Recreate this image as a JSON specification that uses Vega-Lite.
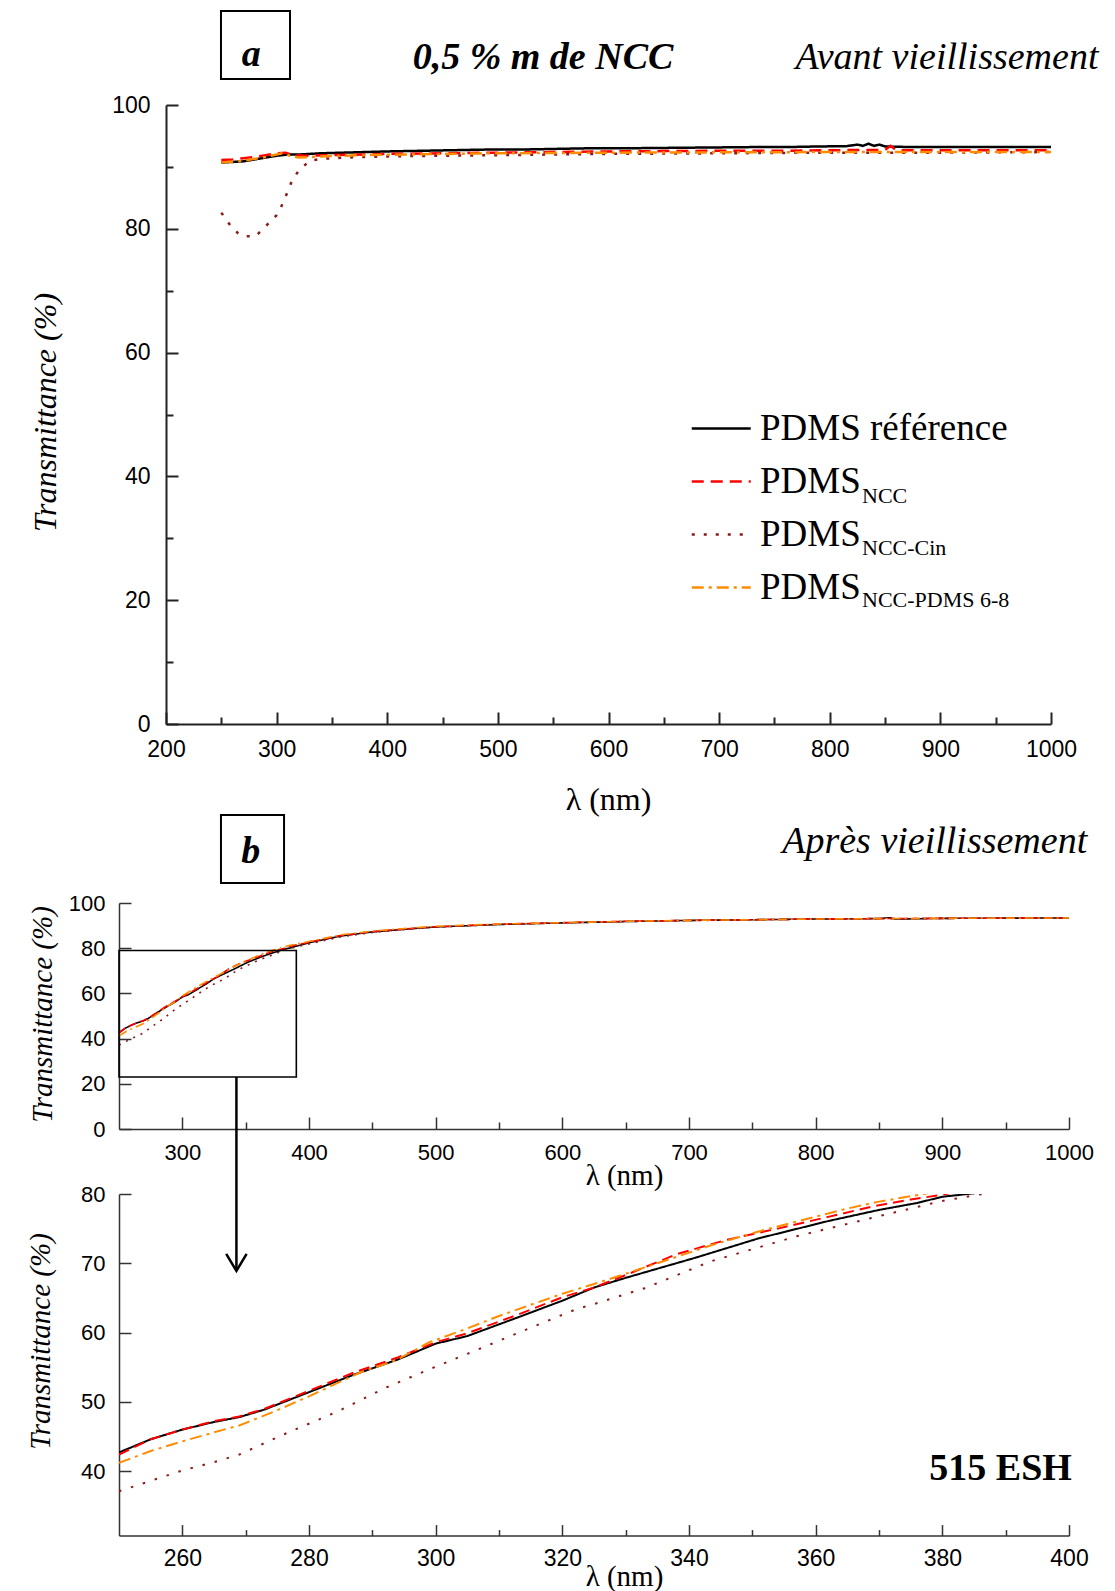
{
  "$schema": "https://vega.github.io/schema/vega-lite/v6.json",
  "background": "white",
  "autosize": {"type": "pad"},
  "padding": {"left": 26, "top": 9, "right": 5, "bottom": 5},
  "config": {
    "view": {"stroke": null},
    "axis": {"grid": false, "format": "d", "labelFlush": false, "labelOverlap": false, "labelFont": "Liberation Sans", "labelColor": "#000", "titleFont": "Liberation Serif", "titleFontWeight": "normal", "titleColor": "#000", "domainColor": "#222", "tickColor": "#222"},
    "legend": {"padding": 0, "titlePadding": 0, "labelLimit": 500}
  },
  "datasets": {
    "a": [
      {"s":"PDMS référence","x":250,"y":90.7},{"s":"PDMS référence","x":260,"y":90.8},{"s":"PDMS référence","x":270,"y":90.9},{"s":"PDMS référence","x":280,"y":91.2},{"s":"PDMS référence","x":290,"y":91.5},{"s":"PDMS référence","x":300,"y":91.8},{"s":"PDMS référence","x":310,"y":92.0},{"s":"PDMS référence","x":320,"y":92.0},{"s":"PDMS référence","x":340,"y":92.2},{"s":"PDMS référence","x":360,"y":92.3},{"s":"PDMS référence","x":380,"y":92.4},{"s":"PDMS référence","x":400,"y":92.5},{"s":"PDMS référence","x":430,"y":92.6},{"s":"PDMS référence","x":460,"y":92.7},{"s":"PDMS référence","x":490,"y":92.8},{"s":"PDMS référence","x":520,"y":92.8},{"s":"PDMS référence","x":550,"y":92.9},{"s":"PDMS référence","x":580,"y":93.0},{"s":"PDMS référence","x":610,"y":93.0},{"s":"PDMS référence","x":640,"y":93.05},{"s":"PDMS référence","x":670,"y":93.1},{"s":"PDMS référence","x":700,"y":93.15},{"s":"PDMS référence","x":730,"y":93.2},{"s":"PDMS référence","x":760,"y":93.2},{"s":"PDMS référence","x":790,"y":93.3},{"s":"PDMS référence","x":815,"y":93.35},{"s":"PDMS référence","x":825,"y":93.6},{"s":"PDMS référence","x":830,"y":93.4},{"s":"PDMS référence","x":835,"y":93.75},{"s":"PDMS référence","x":840,"y":93.4},{"s":"PDMS référence","x":845,"y":93.6},{"s":"PDMS référence","x":850,"y":93.3},{"s":"PDMS référence","x":860,"y":93.25},{"s":"PDMS référence","x":880,"y":93.2},{"s":"PDMS référence","x":900,"y":93.2},{"s":"PDMS référence","x":930,"y":93.2},{"s":"PDMS référence","x":960,"y":93.2},{"s":"PDMS référence","x":1000,"y":93.2},
      {"s":"PDMS NCC","x":250,"y":91.1},{"s":"PDMS NCC","x":260,"y":91.2},{"s":"PDMS NCC","x":270,"y":91.4},{"s":"PDMS NCC","x":280,"y":91.6},{"s":"PDMS NCC","x":290,"y":91.9},{"s":"PDMS NCC","x":300,"y":92.2},{"s":"PDMS NCC","x":308,"y":92.3},{"s":"PDMS NCC","x":315,"y":91.9},{"s":"PDMS NCC","x":330,"y":91.8},{"s":"PDMS NCC","x":350,"y":91.9},{"s":"PDMS NCC","x":400,"y":92.1},{"s":"PDMS NCC","x":450,"y":92.2},{"s":"PDMS NCC","x":500,"y":92.3},{"s":"PDMS NCC","x":550,"y":92.4},{"s":"PDMS NCC","x":600,"y":92.5},{"s":"PDMS NCC","x":650,"y":92.55},{"s":"PDMS NCC","x":700,"y":92.6},{"s":"PDMS NCC","x":750,"y":92.6},{"s":"PDMS NCC","x":800,"y":92.7},{"s":"PDMS NCC","x":850,"y":92.75},{"s":"PDMS NCC","x":855,"y":93.4},{"s":"PDMS NCC","x":860,"y":92.7},{"s":"PDMS NCC","x":900,"y":92.7},{"s":"PDMS NCC","x":950,"y":92.7},{"s":"PDMS NCC","x":1000,"y":92.7},
      {"s":"PDMS NCC-Cin","x":250,"y":82.6},{"s":"PDMS NCC-Cin","x":258,"y":80.6},{"s":"PDMS NCC-Cin","x":265,"y":79.3},{"s":"PDMS NCC-Cin","x":270,"y":78.8},{"s":"PDMS NCC-Cin","x":281,"y":78.8},{"s":"PDMS NCC-Cin","x":290,"y":80.4},{"s":"PDMS NCC-Cin","x":300,"y":82.2},{"s":"PDMS NCC-Cin","x":304,"y":83.5},{"s":"PDMS NCC-Cin","x":309,"y":85.6},{"s":"PDMS NCC-Cin","x":314,"y":87.8},{"s":"PDMS NCC-Cin","x":320,"y":89.4},{"s":"PDMS NCC-Cin","x":330,"y":91.0},{"s":"PDMS NCC-Cin","x":341,"y":91.3},{"s":"PDMS NCC-Cin","x":360,"y":91.5},{"s":"PDMS NCC-Cin","x":400,"y":91.7},{"s":"PDMS NCC-Cin","x":450,"y":91.8},{"s":"PDMS NCC-Cin","x":500,"y":91.9},{"s":"PDMS NCC-Cin","x":600,"y":92.1},{"s":"PDMS NCC-Cin","x":700,"y":92.2},{"s":"PDMS NCC-Cin","x":800,"y":92.3},{"s":"PDMS NCC-Cin","x":900,"y":92.3},{"s":"PDMS NCC-Cin","x":1000,"y":92.4},
      {"s":"PDMS NCC-PDMS 6-8","x":250,"y":90.7},{"s":"PDMS NCC-PDMS 6-8","x":270,"y":91.0},{"s":"PDMS NCC-PDMS 6-8","x":290,"y":91.6},{"s":"PDMS NCC-PDMS 6-8","x":305,"y":92.2},{"s":"PDMS NCC-PDMS 6-8","x":312,"y":91.8},{"s":"PDMS NCC-PDMS 6-8","x":320,"y":91.5},{"s":"PDMS NCC-PDMS 6-8","x":340,"y":91.7},{"s":"PDMS NCC-PDMS 6-8","x":380,"y":91.9},{"s":"PDMS NCC-PDMS 6-8","x":450,"y":92.1},{"s":"PDMS NCC-PDMS 6-8","x":500,"y":92.2},{"s":"PDMS NCC-PDMS 6-8","x":600,"y":92.3},{"s":"PDMS NCC-PDMS 6-8","x":700,"y":92.35},{"s":"PDMS NCC-PDMS 6-8","x":800,"y":92.4},{"s":"PDMS NCC-PDMS 6-8","x":900,"y":92.4},{"s":"PDMS NCC-PDMS 6-8","x":1000,"y":92.4}
    ],
    "b": [
      {"s":"PDMS référence","x":250,"y":42.7},{"s":"PDMS référence","x":255,"y":44.6},{"s":"PDMS référence","x":260,"y":46.0},{"s":"PDMS référence","x":265,"y":47.1},{"s":"PDMS référence","x":269,"y":47.8},{"s":"PDMS référence","x":273,"y":48.9},{"s":"PDMS référence","x":280,"y":51.4},{"s":"PDMS référence","x":287,"y":53.9},{"s":"PDMS référence","x":294,"y":56.1},{"s":"PDMS référence","x":300,"y":58.4},{"s":"PDMS référence","x":305,"y":59.5},{"s":"PDMS référence","x":313,"y":62.2},{"s":"PDMS référence","x":320,"y":64.6},{"s":"PDMS référence","x":325,"y":66.5},{"s":"PDMS référence","x":330,"y":67.9},{"s":"PDMS référence","x":341,"y":70.8},{"s":"PDMS référence","x":351,"y":73.6},{"s":"PDMS référence","x":362,"y":76.1},{"s":"PDMS référence","x":370,"y":77.7},{"s":"PDMS référence","x":376,"y":78.7},{"s":"PDMS référence","x":380,"y":79.6},{"s":"PDMS référence","x":385,"y":80.1},{"s":"PDMS référence","x":392,"y":81.2},{"s":"PDMS référence","x":400,"y":82.4},{"s":"PDMS référence","x":425,"y":85.4},{"s":"PDMS référence","x":450,"y":87.2},{"s":"PDMS référence","x":485,"y":88.8},{"s":"PDMS référence","x":500,"y":89.4},{"s":"PDMS référence","x":550,"y":90.5},{"s":"PDMS référence","x":600,"y":91.2},{"s":"PDMS référence","x":650,"y":91.8},{"s":"PDMS référence","x":700,"y":92.3},{"s":"PDMS référence","x":750,"y":92.6},{"s":"PDMS référence","x":800,"y":92.9},{"s":"PDMS référence","x":850,"y":93.1},{"s":"PDMS référence","x":858,"y":93.5},{"s":"PDMS référence","x":863,"y":92.9},{"s":"PDMS référence","x":900,"y":93.2},{"s":"PDMS référence","x":950,"y":93.3},{"s":"PDMS référence","x":1000,"y":93.4},
      {"s":"PDMS NCC","x":250,"y":42.4},{"s":"PDMS NCC","x":255,"y":44.6},{"s":"PDMS NCC","x":260,"y":46.0},{"s":"PDMS NCC","x":265,"y":47.2},{"s":"PDMS NCC","x":269,"y":47.9},{"s":"PDMS NCC","x":273,"y":49.0},{"s":"PDMS NCC","x":280,"y":51.6},{"s":"PDMS NCC","x":287,"y":54.2},{"s":"PDMS NCC","x":294,"y":56.4},{"s":"PDMS NCC","x":300,"y":58.6},{"s":"PDMS NCC","x":305,"y":59.9},{"s":"PDMS NCC","x":313,"y":62.6},{"s":"PDMS NCC","x":320,"y":65.1},{"s":"PDMS NCC","x":325,"y":66.5},{"s":"PDMS NCC","x":330,"y":68.3},{"s":"PDMS NCC","x":338,"y":71.3},{"s":"PDMS NCC","x":346,"y":73.4},{"s":"PDMS NCC","x":354,"y":75.0},{"s":"PDMS NCC","x":362,"y":76.7},{"s":"PDMS NCC","x":369,"y":78.2},{"s":"PDMS NCC","x":375,"y":79.2},{"s":"PDMS NCC","x":380,"y":79.9},{"s":"PDMS NCC","x":386,"y":81.0},{"s":"PDMS NCC","x":400,"y":82.6},{"s":"PDMS NCC","x":425,"y":85.6},{"s":"PDMS NCC","x":450,"y":87.3},{"s":"PDMS NCC","x":485,"y":88.9},{"s":"PDMS NCC","x":500,"y":89.5},{"s":"PDMS NCC","x":550,"y":90.6},{"s":"PDMS NCC","x":600,"y":91.3},{"s":"PDMS NCC","x":650,"y":91.9},{"s":"PDMS NCC","x":700,"y":92.3},{"s":"PDMS NCC","x":750,"y":92.6},{"s":"PDMS NCC","x":800,"y":92.9},{"s":"PDMS NCC","x":850,"y":93.1},{"s":"PDMS NCC","x":900,"y":93.2},{"s":"PDMS NCC","x":950,"y":93.3},{"s":"PDMS NCC","x":1000,"y":93.4},
      {"s":"PDMS NCC-Cin","x":250,"y":37.1},{"s":"PDMS NCC-Cin","x":255,"y":38.6},{"s":"PDMS NCC-Cin","x":260,"y":40.1},{"s":"PDMS NCC-Cin","x":265,"y":41.3},{"s":"PDMS NCC-Cin","x":269,"y":42.4},{"s":"PDMS NCC-Cin","x":276,"y":45.3},{"s":"PDMS NCC-Cin","x":284.5,"y":48.6},{"s":"PDMS NCC-Cin","x":292,"y":52.0},{"s":"PDMS NCC-Cin","x":299,"y":54.7},{"s":"PDMS NCC-Cin","x":306,"y":57.3},{"s":"PDMS NCC-Cin","x":315,"y":60.7},{"s":"PDMS NCC-Cin","x":322,"y":63.3},{"s":"PDMS NCC-Cin","x":326,"y":64.4},{"s":"PDMS NCC-Cin","x":333,"y":66.4},{"s":"PDMS NCC-Cin","x":343.5,"y":70.3},{"s":"PDMS NCC-Cin","x":357,"y":73.9},{"s":"PDMS NCC-Cin","x":370,"y":76.8},{"s":"PDMS NCC-Cin","x":380,"y":79.0},{"s":"PDMS NCC-Cin","x":387,"y":80.1},{"s":"PDMS NCC-Cin","x":395,"y":81.3},{"s":"PDMS NCC-Cin","x":400,"y":81.9},{"s":"PDMS NCC-Cin","x":425,"y":85.0},{"s":"PDMS NCC-Cin","x":450,"y":87.0},{"s":"PDMS NCC-Cin","x":485,"y":88.7},{"s":"PDMS NCC-Cin","x":500,"y":89.3},{"s":"PDMS NCC-Cin","x":550,"y":90.5},{"s":"PDMS NCC-Cin","x":600,"y":91.2},{"s":"PDMS NCC-Cin","x":650,"y":91.8},{"s":"PDMS NCC-Cin","x":700,"y":92.2},{"s":"PDMS NCC-Cin","x":750,"y":92.6},{"s":"PDMS NCC-Cin","x":800,"y":92.9},{"s":"PDMS NCC-Cin","x":850,"y":93.0},{"s":"PDMS NCC-Cin","x":900,"y":93.2},{"s":"PDMS NCC-Cin","x":950,"y":93.3},{"s":"PDMS NCC-Cin","x":1000,"y":93.4},
      {"s":"PDMS NCC-PDMS 6-8","x":250,"y":41.2},{"s":"PDMS NCC-PDMS 6-8","x":255,"y":42.9},{"s":"PDMS NCC-PDMS 6-8","x":260,"y":44.3},{"s":"PDMS NCC-PDMS 6-8","x":265,"y":45.6},{"s":"PDMS NCC-PDMS 6-8","x":269,"y":46.6},{"s":"PDMS NCC-PDMS 6-8","x":274.5,"y":48.6},{"s":"PDMS NCC-PDMS 6-8","x":280,"y":50.8},{"s":"PDMS NCC-PDMS 6-8","x":288,"y":54.2},{"s":"PDMS NCC-PDMS 6-8","x":294,"y":56.1},{"s":"PDMS NCC-PDMS 6-8","x":299,"y":58.6},{"s":"PDMS NCC-PDMS 6-8","x":305,"y":60.6},{"s":"PDMS NCC-PDMS 6-8","x":310,"y":62.4},{"s":"PDMS NCC-PDMS 6-8","x":315,"y":64.0},{"s":"PDMS NCC-PDMS 6-8","x":320,"y":65.6},{"s":"PDMS NCC-PDMS 6-8","x":326,"y":67.3},{"s":"PDMS NCC-PDMS 6-8","x":335,"y":70.0},{"s":"PDMS NCC-PDMS 6-8","x":343.5,"y":72.6},{"s":"PDMS NCC-PDMS 6-8","x":351,"y":74.6},{"s":"PDMS NCC-PDMS 6-8","x":359,"y":76.5},{"s":"PDMS NCC-PDMS 6-8","x":365,"y":77.9},{"s":"PDMS NCC-PDMS 6-8","x":370,"y":78.9},{"s":"PDMS NCC-PDMS 6-8","x":377,"y":80.0},{"s":"PDMS NCC-PDMS 6-8","x":385,"y":81.3},{"s":"PDMS NCC-PDMS 6-8","x":400,"y":83.0},{"s":"PDMS NCC-PDMS 6-8","x":425,"y":85.9},{"s":"PDMS NCC-PDMS 6-8","x":450,"y":87.6},{"s":"PDMS NCC-PDMS 6-8","x":485,"y":89.1},{"s":"PDMS NCC-PDMS 6-8","x":500,"y":89.7},{"s":"PDMS NCC-PDMS 6-8","x":550,"y":90.7},{"s":"PDMS NCC-PDMS 6-8","x":600,"y":91.3},{"s":"PDMS NCC-PDMS 6-8","x":650,"y":91.9},{"s":"PDMS NCC-PDMS 6-8","x":700,"y":92.3},{"s":"PDMS NCC-PDMS 6-8","x":750,"y":92.6},{"s":"PDMS NCC-PDMS 6-8","x":800,"y":92.9},{"s":"PDMS NCC-PDMS 6-8","x":850,"y":93.1},{"s":"PDMS NCC-PDMS 6-8","x":900,"y":93.2},{"s":"PDMS NCC-PDMS 6-8","x":950,"y":93.3},{"s":"PDMS NCC-PDMS 6-8","x":1000,"y":93.4}
    ]
  },
  "bounds": "flush",
  "spacing": 179,
  "resolve": {"scale": {"x": "independent", "y": "independent", "color": "independent", "strokeDash": "independent", "opacity": "independent"}},
  "vconcat": [
    {
      "width": 932,
      "height": 619,
      "resolve": {"axis": {"x": "independent", "y": "independent"}},
      "layer": [
        {
          "data": {"name": "a"},
          "mark": {"type": "line", "strokeWidth": 2.5},
          "encoding": {
            "x": {"field": "x", "type": "quantitative", "scale": {"domain": [200, 1000], "range": [47, 932], "nice": false, "zero": false},
              "axis": {"orient": "bottom", "values": [200, 300, 400, 500, 600, 700, 800, 900, 1000], "tickSize": -12, "tickWidth": 2, "domainWidth": 2, "domainColor": "#222", "labelFontSize": 23, "labelPadding": 26, "title": "λ (nm)", "titleFontSize": 32, "titleX": 489, "titleY": 75, "titleAlign": "center", "titleBaseline": "middle"}},
            "y": {"field": "y", "type": "quantitative", "scale": {"domain": [0, 100], "nice": false, "zero": false},
              "axis": {"orient": "left", "offset": -47, "values": [0, 20, 40, 60, 80, 100], "tickSize": -12, "tickWidth": 2, "domainWidth": 2, "labelFontSize": 23, "labelPadding": 28, "title": "Transmittance (%)", "titleFontStyle": "italic", "titleFontSize": 32, "titleX": -121, "titleY": 307, "titleAngle": -90, "titleAlign": "center", "titleBaseline": "middle"}},
            "color": {"field": "s", "type": "nominal",
              "scale": {"domain": ["PDMS référence", "PDMS NCC", "PDMS NCC-Cin", "PDMS NCC-PDMS 6-8"], "range": ["#000000", "#ff0000", "#8b1a1a", "#ff8c00"]},
              "legend": {"orient": "none", "legendX": 569, "legendY": 305, "title": null, "labelFont": "Liberation Serif", "labelFontSize": 37, "labelColor": "#000", "labelLimit": 500, "labelExpr": "indexof(datum.label, 'référence') >= 0 ? datum.label : 'PDMS'", "symbolType": "M-1,0H3", "symbolSize": 870, "symbolStrokeWidth": 2.5, "labelOffset": 35, "rowPadding": 15, "padding": 0}},
            "strokeDash": {"field": "s", "type": "nominal",
              "scale": {"domain": ["PDMS référence", "PDMS NCC", "PDMS NCC-Cin", "PDMS NCC-PDMS 6-8"], "range": [[1, 0], [12, 7], [3, 9], [12, 5, 3, 5]]},
              "legend": {"orient": "none", "legendX": 569, "legendY": 305, "title": null, "labelFont": "Liberation Serif", "labelFontSize": 37, "labelColor": "#000", "labelLimit": 500, "labelExpr": "indexof(datum.label, 'référence') >= 0 ? datum.label : 'PDMS'", "symbolType": "M-1,0H3", "symbolSize": 870, "symbolStrokeWidth": 2.5, "labelOffset": 35, "rowPadding": 15, "padding": 0}},
            "opacity": {"field": "s", "type": "nominal",
              "scale": {"domain": ["PDMS référence", "PDMS NCC", "PDMS NCC-Cin", "PDMS NCC-PDMS 6-8", "~"], "range": [1, 1, 1, 1, 1]},
              "legend": {"orient": "none", "legendX": 721, "legendY": 328, "title": null, "labelFont": "Liberation Serif", "labelFontSize": 22, "labelColor": "#000", "labelLimit": 500, "labelExpr": "indexof(datum.label, 'NCC') >= 0 ? slice(datum.label, 5) : ''", "symbolType": "circle", "symbolSize": 0, "symbolOpacity": 0, "symbolStrokeWidth": 0, "labelOffset": 0, "rowPadding": 30, "padding": 0}}
          }
        },
        {
          "data": {"values": [{}]},
          "mark": {"type": "rect", "filled": false, "color": "#000", "strokeWidth": 2},
          "encoding": {
            "x": {"datum": 249.7, "type": "quantitative", "axis": {"orient": "bottom", "values": [250, 350, 450, 550, 650, 750, 850, 950], "tickSize": -7, "tickWidth": 2, "labels": false, "domain": false, "title": null}},
            "x2": {"datum": 312.1},
            "y": {"datum": 104.2, "type": "quantitative", "axis": {"orient": "left", "offset": -47, "values": [10, 30, 50, 70, 90], "tickSize": -7, "tickWidth": 2, "labels": false, "domain": false, "title": null}},
            "y2": {"datum": 115.2}
          }
        },
        {
          "data": {"values": [{}]},
          "mark": {"type": "text", "font": "Liberation Serif", "fontSize": 38, "fontStyle": "italic", "fontWeight": "bold", "align": "center", "baseline": "alphabetic", "color": "#000"},
          "encoding": {"x": {"datum": 277, "type": "quantitative", "axis": null}, "y": {"datum": 106.3, "type": "quantitative", "axis": null}, "text": {"value": "a"}}
        },
        {
          "data": {"values": [{}]},
          "mark": {"type": "text", "font": "Liberation Serif", "fontSize": 38, "fontStyle": "italic", "fontWeight": "bold", "align": "center", "baseline": "alphabetic", "color": "#000"},
          "encoding": {"x": {"datum": 540.8, "type": "quantitative", "axis": null}, "y": {"datum": 105.8, "type": "quantitative", "axis": null}, "text": {"value": "0,5 % m de NCC"}}
        },
        {
          "data": {"values": [{}]},
          "mark": {"type": "text", "font": "Liberation Serif", "fontSize": 38, "fontStyle": "italic", "align": "center", "baseline": "alphabetic", "color": "#000"},
          "encoding": {"x": {"datum": 906, "type": "quantitative", "axis": null}, "y": {"datum": 105.8, "type": "quantitative", "axis": null}, "text": {"value": "Avant vieillissement"}}
        }
      ]
    },
    {
      "bounds": "flush",
      "spacing": 65,
      "resolve": {"scale": {"x": "independent", "y": "independent", "color": "independent", "strokeDash": "independent", "opacity": "independent"}},
      "vconcat": [
        {
          "width": 950,
          "height": 226,
          "resolve": {"axis": {"x": "independent", "y": "independent"}},
          "layer": [
            {
              "data": {"name": "b"},
              "mark": {"type": "line", "strokeWidth": 1.6},
              "encoding": {
                "x": {"field": "x", "type": "quantitative", "scale": {"domain": [250, 1000], "nice": false, "zero": false},
                  "axis": {"orient": "bottom", "values": [300, 400, 500, 600, 700, 800, 900, 1000], "tickSize": -12, "tickWidth": 1.5, "domainWidth": 1.5, "domainColor": "#333", "tickColor": "#333", "labelFontSize": 22, "labelPadding": 25, "title": "λ (nm)", "titleFontSize": 29, "titleX": 505, "titleY": 46, "titleAlign": "center", "titleBaseline": "middle"}},
                "y": {"field": "y", "type": "quantitative", "scale": {"domain": [0, 100], "nice": false, "zero": false},
                  "axis": {"orient": "left", "values": [0, 20, 40, 60, 80, 100], "tickSize": -12, "tickWidth": 1.5, "domainWidth": 1.5, "domainColor": "#333", "tickColor": "#333", "labelFontSize": 22, "labelPadding": 26, "title": "Transmittance (%)", "titleFontStyle": "italic", "titleFontSize": 29, "titleX": -77, "titleY": 111, "titleAngle": -90, "titleAlign": "center", "titleBaseline": "middle"}},
                "color": {"field": "s", "type": "nominal", "scale": {"domain": ["PDMS référence", "PDMS NCC", "PDMS NCC-Cin", "PDMS NCC-PDMS 6-8"], "range": ["#000000", "#ff0000", "#8b1a1a", "#ff8c00"]}, "legend": null},
                "strokeDash": {"field": "s", "type": "nominal", "scale": {"domain": ["PDMS référence", "PDMS NCC", "PDMS NCC-Cin", "PDMS NCC-PDMS 6-8"], "range": [[1, 0], [8, 4], [2, 6], [9, 4, 2, 4]]}, "legend": null}
              }
            },
            {
              "data": {"values": [{}]},
              "mark": {"type": "rect", "filled": false, "color": "#000", "strokeWidth": 1.6},
              "encoding": {
                "x": {"datum": 250, "type": "quantitative", "axis": {"orient": "bottom", "values": [350, 450, 550, 650, 750, 850, 950], "tickSize": -7, "tickWidth": 1.5, "tickColor": "#333", "labels": false, "domain": false, "title": null}},
                "x2": {"datum": 390},
                "y": {"datum": 23, "type": "quantitative", "axis": null},
                "y2": {"datum": 79}
              }
            },
            {
              "data": {"values": [{}]},
              "mark": {"type": "rule", "color": "#000", "strokeWidth": 2.5},
              "encoding": {"x": {"datum": 342.7, "type": "quantitative", "axis": null}, "y": {"datum": 23, "type": "quantitative", "axis": null}, "y2": {"datum": -62.5}}
            },
            {
              "data": {"values": [{}]},
              "mark": {"type": "point", "shape": "M-0.6,-1L0,0L0.6,-1", "size": 1156, "filled": false, "color": "#000", "strokeWidth": 2.5, "opacity": 1},
              "encoding": {"x": {"datum": 342.7, "type": "quantitative", "axis": null}, "y": {"datum": -62.8, "type": "quantitative", "axis": null}}
            },
            {
              "data": {"values": [{}]},
              "mark": {"type": "rect", "filled": false, "color": "#000", "strokeWidth": 2},
              "encoding": {"x": {"datum": 330.5, "type": "quantitative", "axis": null}, "x2": {"datum": 380.3}, "y": {"datum": 108.8, "type": "quantitative", "axis": null}, "y2": {"datum": 138.9}}
            },
            {
              "data": {"values": [{}]},
              "mark": {"type": "text", "font": "Liberation Serif", "fontSize": 38, "fontStyle": "italic", "fontWeight": "bold", "align": "center", "baseline": "alphabetic", "color": "#000"},
              "encoding": {"x": {"datum": 354, "type": "quantitative", "axis": null}, "y": {"datum": 117.7, "type": "quantitative", "axis": null}, "text": {"value": "b"}}
            },
            {
              "data": {"values": [{}]},
              "mark": {"type": "text", "font": "Liberation Serif", "fontSize": 38, "fontStyle": "italic", "align": "center", "baseline": "alphabetic", "color": "#000"},
              "encoding": {"x": {"datum": 894, "type": "quantitative", "axis": null}, "y": {"datum": 122.1, "type": "quantitative", "axis": null}, "text": {"value": "Après vieillissement"}}
            }
          ]
        },
        {
          "width": 950,
          "height": 341.6,
          "resolve": {"axis": {"x": "independent", "y": "independent"}},
          "layer": [
            {
              "data": {"name": "b"},
              "mark": {"type": "line", "strokeWidth": 2, "clip": true},
              "encoding": {
                "x": {"field": "x", "type": "quantitative", "scale": {"domain": [250, 400], "nice": false, "zero": false},
                  "axis": {"orient": "bottom", "values": [260, 280, 300, 320, 340, 360, 380, 400], "tickSize": -11, "tickWidth": 1.5, "domainWidth": 1.5, "domainColor": "#333", "tickColor": "#333", "labelFontSize": 23, "labelPadding": 23, "title": "λ (nm)", "titleFontSize": 29, "titleX": 505, "titleY": 41, "titleAlign": "center", "titleBaseline": "middle"}},
                "y": {"field": "y", "type": "quantitative", "scale": {"domain": [30.7, 80], "nice": false, "zero": false},
                  "axis": {"orient": "left", "values": [40, 50, 60, 70, 80], "tickSize": -12, "tickWidth": 1.5, "domainWidth": 1.5, "domainColor": "#333", "tickColor": "#333", "labelFontSize": 22, "labelPadding": 26, "title": "Transmittance (%)", "titleFontStyle": "italic", "titleFontSize": 29, "titleX": -79, "titleY": 147, "titleAngle": -90, "titleAlign": "center", "titleBaseline": "middle"}},
                "color": {"field": "s", "type": "nominal", "scale": {"domain": ["PDMS référence", "PDMS NCC", "PDMS NCC-Cin", "PDMS NCC-PDMS 6-8"], "range": ["#000000", "#ff0000", "#8b1a1a", "#ff8c00"]}, "legend": null},
                "strokeDash": {"field": "s", "type": "nominal", "scale": {"domain": ["PDMS référence", "PDMS NCC", "PDMS NCC-Cin", "PDMS NCC-PDMS 6-8"], "range": [[1, 0], [11, 6], [2.5, 10], [12, 5, 3, 5]]}, "legend": null}
              }
            },
            {
              "data": {"values": [{}]},
              "mark": {"type": "text", "font": "Liberation Serif", "fontSize": 38, "fontWeight": "bold", "align": "center", "baseline": "alphabetic", "color": "#000"},
              "encoding": {
                "x": {"datum": 389.2, "type": "quantitative", "axis": {"orient": "bottom", "values": [270, 290, 310, 330, 350, 370, 390], "tickSize": -6, "tickWidth": 1.5, "tickColor": "#333", "labels": false, "domain": false, "title": null}},
                "y": {"datum": 38.7, "type": "quantitative", "axis": null},
                "text": {"value": "515 ESH"}
              }
            }
          ]
        }
      ]
    }
  ]
}
